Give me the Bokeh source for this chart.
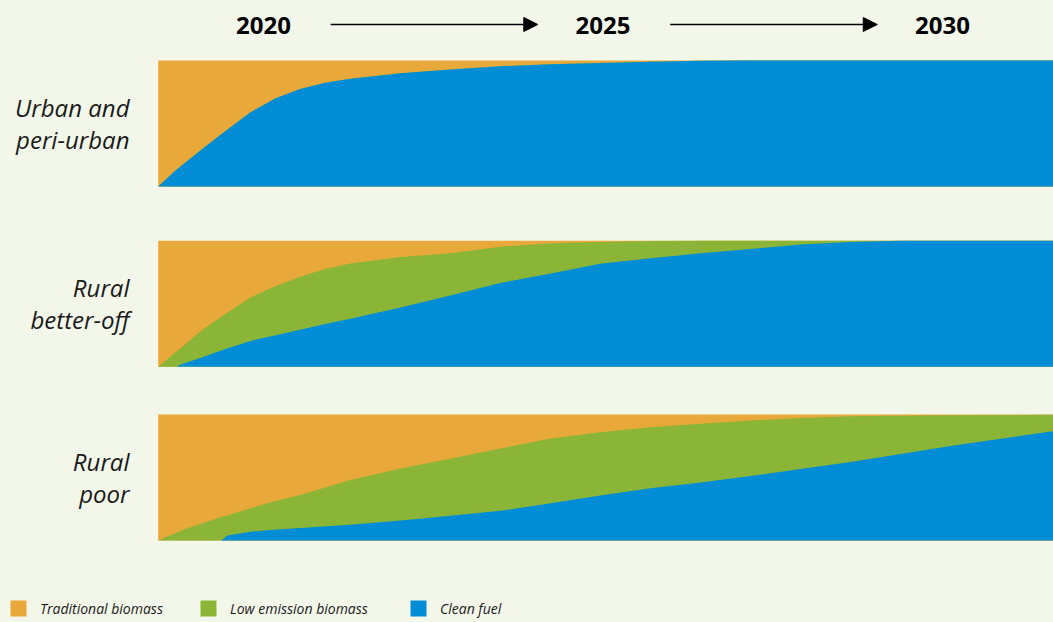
from bokeh.plotting import figure
from bokeh.models import ColumnDataSource, Range1d, Label, Arrow, NormalHead, Legend, LegendItem
from bokeh.transform import stack
from bokeh.embed import file_html
from bokeh.resources import INLINE

# ---------------- data (shares in %) ----------------
header_years = [2020, 2025, 2030]
series_names = ["Traditional biomass", "Low emission biomass", "Clean fuel"]

urban_labels = ["Urban and", "peri-urban"]
urban_years = [2018.45, 2018.70, 2019.07, 2019.44, 2019.81, 2020.18, 2020.54, 2020.91, 2021.28,
               2022.02, 2022.75, 2023.49, 2024.23, 2024.96, 2025.70, 2026.44, 2027.17, 2031.70]
urban_clean = [0, 12.5, 28.6, 44, 59, 70, 77.5, 82.3, 85.5, 90, 92.9, 95.5, 97, 98, 99, 99.8, 100, 100]
urban_low = [0] * 18
urban_trad = [100, 87.5, 71.4, 56, 41, 30, 22.5, 17.7, 14.5, 10, 7.1, 4.5, 3, 2, 1, 0.2, 0, 0]

better_labels = ["Rural", "better-off"]
better_years = [2018.45, 2018.72, 2018.79, 2019.07, 2019.44, 2019.81, 2020.18, 2020.54, 2020.91,
                2021.28, 2022.02, 2022.75, 2023.49, 2024.23, 2024.96, 2025.70, 2026.44, 2027.17,
                2027.91, 2028.65, 2029.38, 2031.70]
better_clean = [0, 0, 2, 7, 14, 20.5, 25, 29.4, 34, 38, 47, 56.5, 66.4, 74, 81.7, 86, 90, 93.5,
                97, 99, 100, 100]
better_low = [0, 12, 13, 21, 28, 34.5, 39, 42.1, 43.5, 44, 40, 33.5, 28.9, 24, 17.3, 13.8, 10, 6.5,
              3, 1, 0, 0]
better_trad = [100, 88, 85, 72, 58, 45, 36, 28.5, 22.5, 18, 13, 10, 4.7, 2, 1, 0.2, 0, 0, 0, 0, 0, 0]

poor_labels = ["Rural", "poor"]
poor_years = [2018.45, 2018.82, 2019.32, 2019.38, 2019.47, 2019.81, 2020.15, 2020.54, 2021.28,
              2022.02, 2022.75, 2023.49, 2024.23, 2024.96, 2025.70, 2026.44, 2027.17, 2027.91,
              2028.65, 2030.12, 2031.70]
poor_clean = [0, 0, 0, 0, 4, 7, 8.7, 10, 12.6, 16, 19.7, 23.6, 29.7, 35.7, 41.5, 46.2, 51.2, 56.8,
              62.4, 75, 87.4]
poor_low = [0, 8.7, 17.8, 18.8, 16, 18.7, 22.3, 26.2, 35.4, 41.2, 45.3, 49.4, 51.3, 50.3, 48.5,
            46.5, 44.1, 40.6, 36.3, 24.5, 12.4]
poor_trad = [100, 91.3, 82.2, 81.2, 80, 74.3, 69, 63.8, 52, 42.8, 35, 27, 19, 14, 10, 7.3, 4.7,
             2.6, 1.3, 0.5, 0.2]

# ---------------- styling / layout ----------------
BG = "#F3F7EA"
ORANGE = "#E8A83A"
GREEN = "#8BB536"
BLUE = "#008DD5"
TEXT = "#1A1A1A"

p = figure(width=1053, height=622, output_backend="svg", toolbar_location=None,
           x_range=Range1d(2016.245, 2031.635), y_range=Range1d(0, 487.3),
           min_border_left=8, min_border_top=8, min_border_right=0, min_border_bottom=0,
           x_axis_location=None, y_axis_location=None)
p.grid.visible = False
p.outline_line_color = None
p.background_fill_color = BG
p.border_fill_color = BG

panels = [
    (urban_labels, urban_years, urban_clean, urban_low, urban_trad, 346.0),
    (better_labels, better_years, better_clean, better_low, better_trad, 203.0),
    (poor_labels, poor_years, poor_clean, poor_low, poor_trad, 65.0),
]

legend_renderers = None
for labels, yrs, clean, low, trad, base in panels:
    src = ColumnDataSource(dict(year=yrs, base=[base] * len(yrs), clean=clean, low=low, trad=trad))
    r_trad = p.varea(x="year", y1=stack("base"), y2=stack("base", "clean", "low", "trad"),
                     source=src, fill_color=ORANGE)
    r_low = p.varea(x="year", y1=stack("base"), y2=stack("base", "clean", "low"),
                    source=src, fill_color=GREEN)
    r_clean = p.varea(x="year", y1=stack("base"), y2=stack("base", "clean"),
                      source=src, fill_color=BLUE)
    if legend_renderers is None:
        legend_renderers = [r_trad, r_low, r_clean]
    for line, dy in zip(labels, [63.1, 37.3]):
        p.add_layout(Label(x=2018.027, y=base + dy, text=line, text_align="right",
                           text_baseline="middle", text_font="Open Sans",
                           text_font_style="italic", text_font_size="24px", text_color=TEXT))

# header years and arrows
for yr in header_years:
    p.add_layout(Label(x=yr, y=474.2, text=str(yr), text_align="center",
                       text_baseline="middle", text_font="Open Sans",
                       text_font_style="bold", text_font_size="24px", text_color="black"))
for a, b in zip(header_years[:-1], header_years[1:]):
    p.add_layout(Arrow(x_start=a + 0.99, y_start=474.6, x_end=b - 0.96, y_end=474.6,
                       line_width=1.5, line_color="black",
                       end=NormalHead(size=14, fill_color="black", line_color="black")))

# legend: one legend per item so each sits where the reference has it
for name, rend, xpos in zip(series_names, legend_renderers, [0, 190, 400]):
    lg = Legend(items=[LegendItem(label=name, renderers=[rend])], location=(xpos, 4),
                orientation="horizontal", glyph_width=20, glyph_height=20, label_standoff=12,
                padding=0, margin=0, border_line_color=None, background_fill_alpha=0,
                label_text_font="Open Sans", label_text_font_style="italic",
                label_text_font_size="14px", label_text_color=TEXT)
    p.add_layout(lg, "center")

style = ("<style>html, body {margin:0 !important; padding:0 !important; "
         "background:%s; overflow:hidden;}</style></head>" % BG)
html = file_html(p, INLINE).replace("</head>", style, 1)
open("out.html", "w").write(html)
